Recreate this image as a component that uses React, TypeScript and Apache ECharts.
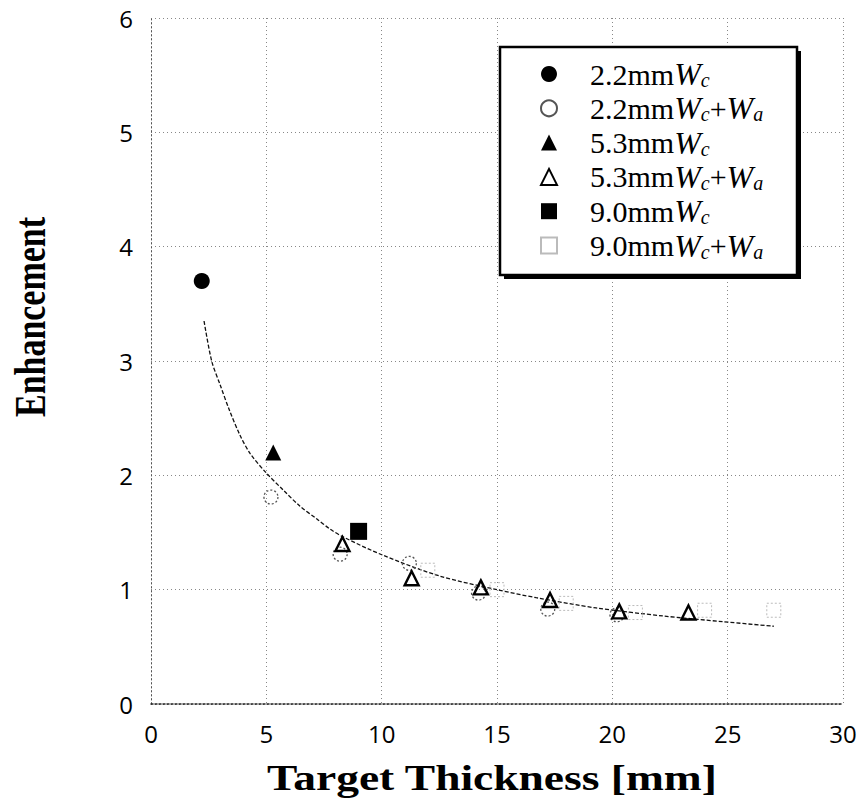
import React, { useEffect, useRef } from "react";
import * as echarts from "echarts";

const seriesNames = [
  "2.2mmWc",
  "2.2mmWc+Wa",
  "5.3mmWc",
  "5.3mmWc+Wa",
  "9.0mmWc",
  "9.0mmWc+Wa",
];

const s22Wc: number[][] = [[2.2, 3.7]];
const s22WcWa: number[][] = [
  [5.2, 1.81],
  [8.2, 1.31],
  [11.2, 1.23],
  [14.2, 0.97],
  [17.2, 0.83],
  [20.2, 0.78],
];
const s53Wc: number[][] = [[5.3, 2.2]];
const s53WcWa: number[][] = [
  [8.3, 1.4],
  [11.3, 1.1],
  [14.3, 1.02],
  [17.3, 0.91],
  [20.3, 0.81],
  [23.3, 0.8],
];
const s90Wc: number[][] = [[9.0, 1.51]];
const s90WcWa: number[][] = [
  [12.0, 1.17],
  [15.0, 1.0],
  [18.0, 0.88],
  [21.0, 0.8],
  [24.0, 0.82],
  [27.0, 0.82],
];
const fitCurve: number[][] = [
  [2.3, 3.35],
  [2.63, 3.0],
  [3.0, 2.79],
  [3.4, 2.57],
  [3.86, 2.35],
  [4.3, 2.19],
  [5.0, 2.02],
  [5.74, 1.87],
  [6.46, 1.73],
  [7.18, 1.62],
  [7.76, 1.53],
  [8.34, 1.46],
  [10.07, 1.3],
  [12.5, 1.12],
  [15.0, 1.0],
  [16.7, 0.93],
  [19.3, 0.84],
  [22.2, 0.77],
  [24.8, 0.72],
  [27.0, 0.68],
];

const xTicks = [0, 5, 10, 15, 20, 25, 30];
const yTicks = [0, 1, 2, 3, 4, 5, 6];

const legendLabels: Record<string, string> = {
  "2.2mmWc": "{sp|}{n|2.2mm}{w|W}{s|c}",
  "2.2mmWc+Wa": "{sp|}{n|2.2mm}{w|W}{s|c}{n|+}{w|W}{s|a}",
  "5.3mmWc": "{sp|}{n|5.3mm}{w|W}{s|c}",
  "5.3mmWc+Wa": "{sp|}{n|5.3mm}{w|W}{s|c}{n|+}{w|W}{s|a}",
  "9.0mmWc": "{sp|}{n|9.0mm}{w|W}{s|c}",
  "9.0mmWc+Wa": "{sp|}{n|9.0mm}{w|W}{s|c}{n|+}{w|W}{s|a}",
};

export default function App() {
  const ref = useRef<HTMLDivElement>(null);
  useEffect(() => {
    if (!ref.current) return;
    const chart = echarts.init(ref.current, undefined, { renderer: "svg" });
    const serif = "'Liberation Serif', 'Times New Roman', serif";
    const gridLine = { show: true, lineStyle: { type: [1, 3] as any, color: "#888", width: 1 } };
    chart.setOption({
      animation: false,
      backgroundColor: "#fff",
      grid: { left: 151, right: 23, top: 18, bottom: 99, containLabel: false },
      xAxis: {
        type: "value",
        min: xTicks[0],
        max: xTicks[xTicks.length - 1],
        interval: 5,
        axisLine: { show: true, lineStyle: { type: [2, 2], color: "#222", width: 1.5 } },
        axisTick: { show: false },
        splitLine: gridLine,
        axisLabel: {
          margin: 17,
          fontFamily: "'Open Sans', sans-serif",
          fontSize: 24,
          fontWeight: 500,
          color: "#000",
        },
      },
      yAxis: {
        type: "value",
        min: yTicks[0],
        max: yTicks[yTicks.length - 1],
        interval: 1,
        axisLine: { show: true, lineStyle: { type: [1, 3], color: "#555", width: 1 } },
        axisTick: { show: false },
        splitLine: gridLine,
        axisLabel: {
          margin: 18,
          fontFamily: "'Open Sans', sans-serif",
          fontSize: 24,
          fontWeight: 500,
          color: "#000",
        },
      },
      legend: {
        show: true,
        orient: "vertical",
        left: 540,
        top: 58,
        z: 10,
        padding: 0,
        itemWidth: 16,
        itemHeight: 16,
        itemGap: 2.3,
        selectedMode: false,
        data: seriesNames,
        formatter: (name: string) => legendLabels[name] || name,
        textStyle: {
          color: "#000",
          fontFamily: serif,
          fontSize: 30,
          rich: {
            sp: { width: 28 },
            n: { fontFamily: serif, fontSize: 30, color: "#000" },
            w: { fontFamily: serif, fontSize: 32, fontStyle: "italic", color: "#000" },
            s: { fontFamily: serif, fontSize: 20, fontStyle: "italic", color: "#000", padding: [12, 0, 0, 0] },
          },
        },
      },
      graphic: [
        { type: "rect", z: 1, shape: { x: 504, y: 51, width: 297, height: 228 }, style: { fill: "#000" } },
        {
          type: "rect",
          z: 2,
          shape: { x: 500, y: 47, width: 297, height: 228 },
          style: { fill: "#fff", stroke: "#000", lineWidth: 2.5 },
        },
        {
          type: "text",
          z: 3,
          x: 492,
          y: 778,
          scaleX: 1.3,
          style: {
            text: "Target Thickness [mm]",
            fontFamily: serif,
            fontWeight: "bold",
            fontSize: 35,
            fill: "#000",
            textAlign: "center",
            textVerticalAlign: "middle",
          },
        },
        {
          type: "text",
          z: 3,
          x: 30,
          y: 317,
          rotation: Math.PI / 2,
          scaleX: 0.97,
          scaleY: 1.25,
          style: {
            text: "Enhancement",
            fontFamily: serif,
            fontWeight: "bold",
            fontSize: 35,
            fill: "#000",
            textAlign: "center",
            textVerticalAlign: "middle",
          },
        },
      ],
      series: [
        {
          name: "fit",
          type: "line",
          data: fitCurve,
          smooth: 0.3,
          showSymbol: false,
          symbol: "none",
          lineStyle: { color: "#111", width: 1.3, type: [4, 2] },
          z: 1,
          silent: true,
        },
        {
          name: seriesNames[0],
          type: "scatter",
          data: s22Wc,
          symbol: "circle",
          symbolSize: 16,
          itemStyle: { color: "#000", opacity: 1 },
          z: 5,
        },
        {
          name: seriesNames[1],
          type: "scatter",
          data: s22WcWa,
          symbol: "circle",
          symbolSize: 14,
          itemStyle: { color: "rgba(255,255,255,0)", borderColor: "#555", borderWidth: 1.3, borderType: [2, 2], opacity: 1 },
          z: 3,
        },
        {
          name: seriesNames[2],
          type: "scatter",
          data: s53Wc,
          symbol: "triangle",
          symbolSize: 16,
          itemStyle: { color: "#000", opacity: 1 },
          z: 5,
        },
        {
          name: seriesNames[3],
          type: "scatter",
          data: s53WcWa,
          symbol: "triangle",
          symbolSize: 14,
          itemStyle: { color: "rgba(255,255,255,0)", borderColor: "#000", borderWidth: 2.4, opacity: 1 },
          z: 4,
        },
        {
          name: seriesNames[4],
          type: "scatter",
          data: s90Wc,
          symbol: "rect",
          symbolSize: 17,
          itemStyle: { color: "#000", opacity: 1 },
          z: 5,
        },
        {
          name: seriesNames[5],
          type: "scatter",
          data: s90WcWa,
          symbol: "rect",
          symbolSize: 14,
          itemStyle: { color: "rgba(255,255,255,0)", borderColor: "#bbb", borderWidth: 1, borderType: [2, 2], opacity: 1 },
          z: 2,
        },
      ],
    });
    return () => chart.dispose();
  }, []);
  return (
    <div
      ref={ref}
      style={{ position: "fixed", left: 0, top: 0, width: 866, height: 803, background: "#fff" }}
    />
  );
}
